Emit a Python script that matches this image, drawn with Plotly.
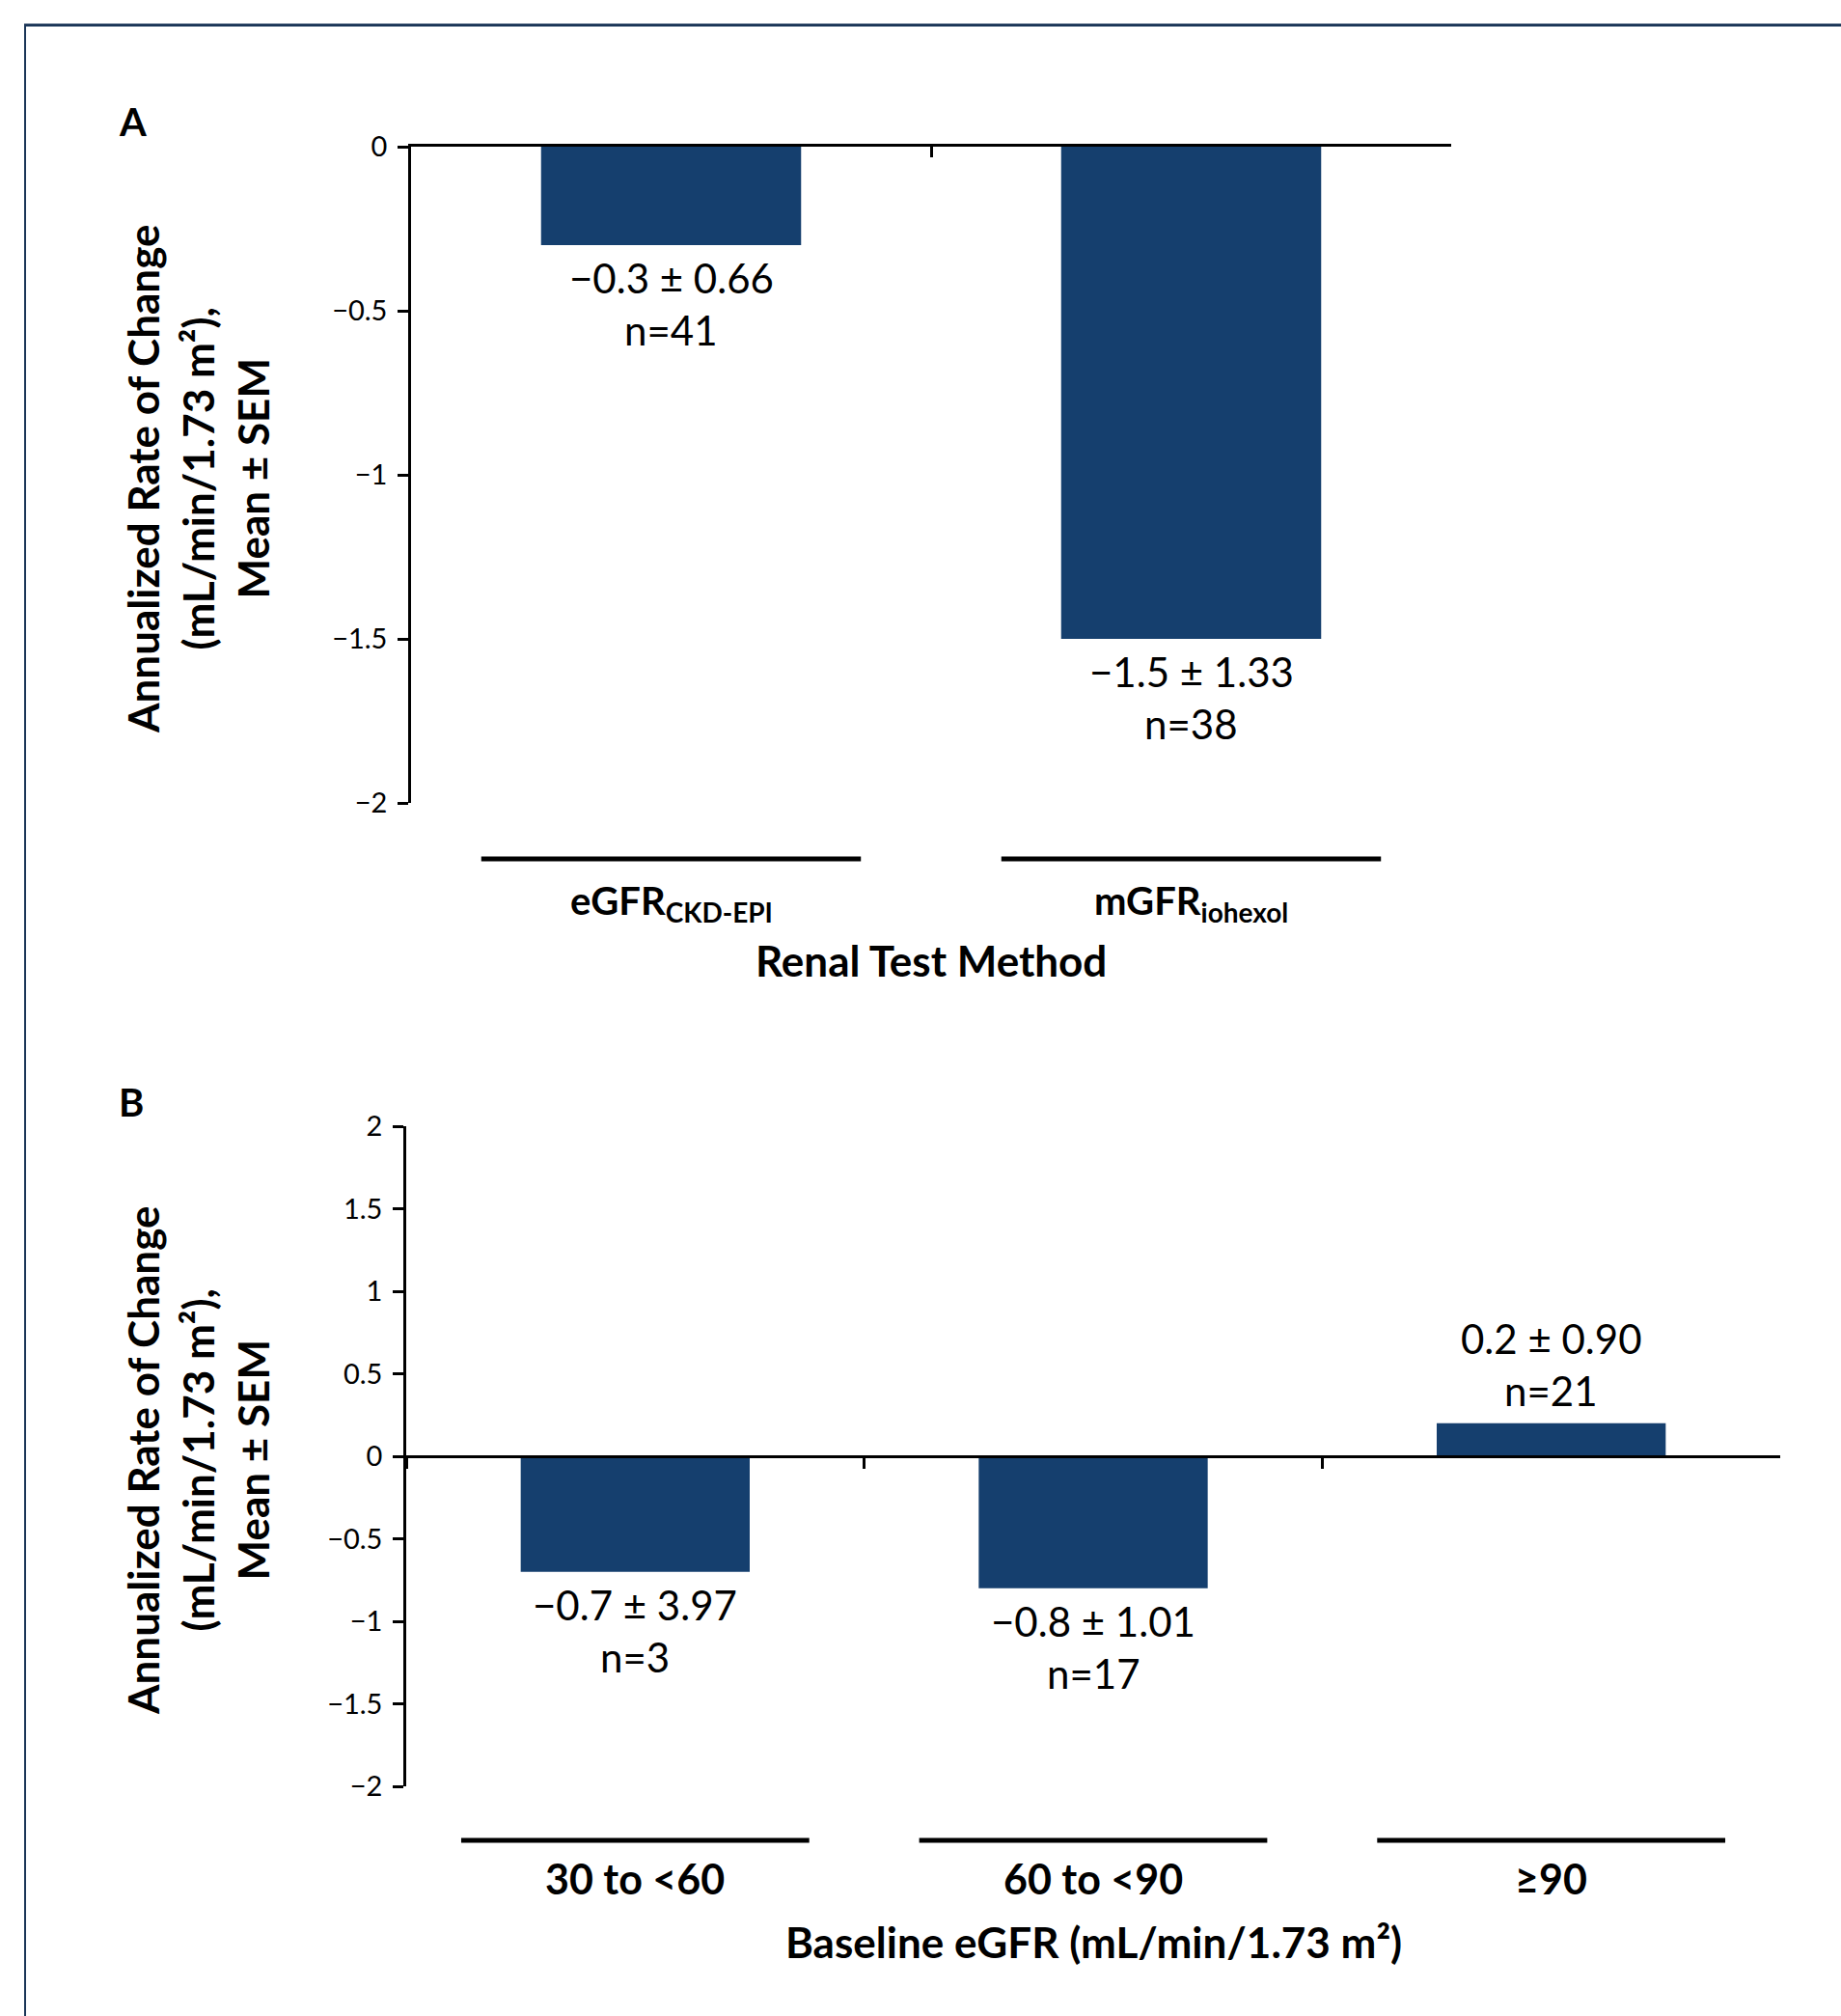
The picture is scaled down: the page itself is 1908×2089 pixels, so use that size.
import plotly.graph_objects as go

W, H = 1908, 2089

# ---------------- data ----------------
cats_a = ["eGFR<sub>CKD-EPI</sub>", "mGFR<sub>iohexol</sub>"]
mean_a = [-0.3, -1.5]
sem_a = [0.66, 1.33]
n_a = [41, 38]
yticks_a = [0, -0.5, -1, -1.5, -2]
xtitle_a = "Renal Test Method"

cats_b = ["30 to <60", "60 to <90", "≥90"]
mean_b = [-0.7, -0.8, 0.2]
sem_b = [3.97, 1.01, 0.90]
n_b = [3, 17, 21]
yticks_b = [2, 1.5, 1, 0.5, 0, -0.5, -1, -1.5, -2]
xtitle_b = "Baseline eGFR (mL/min/1.73 m²)"

ytitle = "Annualized Rate of Change<br>(mL/min/1.73 m²),<br>Mean ± SEM"

# ---------------- style ----------------
BAR = "#153F6E"
FONT = "Lato"
AXW = 2.5


def fx(p):
    return p / W


def fy(p):
    return 1 - p / H


def minus(s):
    return s.replace("-", "−")


def tick_text(vals):
    return [minus(f"{v:g}") for v in vals]


fig = go.Figure()

fig.add_trace(go.Bar(x=cats_a, y=mean_a, width=0.5, marker=dict(color=BAR, line=dict(width=0)),
                     xaxis="x", yaxis="y", showlegend=False, hoverinfo="skip"))
fig.add_trace(go.Bar(x=cats_b, y=mean_b, width=0.5, marker=dict(color=BAR, line=dict(width=0)),
                     xaxis="x2", yaxis="y2", showlegend=False, hoverinfo="skip"))

# panel geometry (pixels)
A_left, A_right, A_top, A_bot = 426, 1504, 152, 832
B_left, B_right, B_top, B_bot, B_zero = 421, 1845, 1167, 1851, 1509

tickfont = dict(family=FONT, size=29, color="black")

common_x = dict(type="category", showline=True, linecolor="black", linewidth=AXW,
                tickson="boundaries", ticklen=11, tickwidth=AXW, tickcolor="black",
                showticklabels=False, showgrid=False, zeroline=False, fixedrange=True,
                automargin=False)
common_y = dict(tickfont=tickfont, showline=True, linecolor="black", linewidth=AXW,
                ticks="outside", ticklen=11, tickwidth=AXW, tickcolor="black",
                ticklabelstandoff=5, showgrid=False, zeroline=False, fixedrange=True,
                automargin=False)

layout = dict(
    width=W, height=H, autosize=False,
    margin=dict(l=0, r=0, t=0, b=0, pad=0, autoexpand=False),
    paper_bgcolor="white", plot_bgcolor="white",
    bargap=0.5,
    xaxis=dict(domain=[fx(A_left), fx(A_right)], anchor="y", range=[-0.5, 1.5],
               side="top", ticks="inside", **common_x),
    yaxis=dict(domain=[fy(A_bot), fy(A_top)], anchor="x", range=[-2, 0],
               tickvals=yticks_a, ticktext=tick_text(yticks_a), **common_y),
    xaxis2=dict(domain=[fx(B_left), fx(B_right)], anchor="free", position=fy(B_zero),
                range=[-0.5, 2.5], ticks="outside", **common_x),
    yaxis2=dict(domain=[fy(B_bot), fy(B_top)], anchor="x2", range=[-2, 2],
                tickvals=yticks_b, ticktext=tick_text(yticks_b), **common_y),
)
fig.update_layout(**layout)

ann = []
shapes = []

VAL_FONT = dict(family=FONT, size=42, color="black")


# value labels
def value_labels(cats, means, sems, ns, xref, yref):
    for c, m, s, n in zip(cats, means, sems, ns):
        l1 = minus(f"{m:.1f}") + " ± " + f"{s:.2f}"
        l2 = f"n={n}"
        if m < 0:
            sh1, sh2 = -34, -88
        else:
            sh1, sh2 = 88, 34
        ann.append(dict(x=c, y=m, xref=xref, yref=yref, text=l1, showarrow=False,
                        yshift=sh1, yanchor="middle", xanchor="center", font=VAL_FONT))
        ann.append(dict(x=c, y=m, xref=xref, yref=yref, text=l2, showarrow=False,
                        yshift=sh2, yanchor="middle", xanchor="center", font=VAL_FONT))


value_labels(cats_a, mean_a, sem_a, n_a, "x", "y")
value_labels(cats_b, mean_b, sem_b, n_b, "x2", "y2")


# category bars + labels below the axes
def cat_labels(cats, xref, line_y, label_y, half, size):
    for i, c in enumerate(cats):
        shapes.append(dict(type="line", xref=xref, yref="paper",
                           x0=i - half, x1=i + half, y0=fy(line_y), y1=fy(line_y),
                           line=dict(color="black", width=5)))
        ann.append(dict(x=c, xref=xref, y=fy(label_y), yref="paper", text=f"<b>{c}</b>",
                        showarrow=False, xanchor="center", yanchor="middle",
                        font=dict(family=FONT, size=size, color="black")))


cat_labels(cats_a, "x", 890, 935, 0.365, 40)
cat_labels(cats_b, "x2", 1907, 1946, 0.38, 43)

# axis titles
ann.append(dict(x=fx((A_left + A_right) / 2), y=fy(995), xref="paper", yref="paper",
                text=f"<b>{xtitle_a}</b>", showarrow=False, xanchor="center", yanchor="middle",
                font=dict(family=FONT, size=44, color="black")))
ann.append(dict(x=fx((B_left + B_right) / 2), y=fy(2012), xref="paper", yref="paper",
                text=f"<b>{xtitle_b}</b>", showarrow=False, xanchor="center", yanchor="middle",
                font=dict(family=FONT, size=44, color="black")))

for cy in (497, 1514):
    ann.append(dict(x=fx(205), y=fy(cy), xref="paper", yref="paper", text=f"<b>{ytitle}</b>",
                    textangle=-90, showarrow=False, xanchor="center", yanchor="middle",
                    font=dict(family=FONT, size=44, color="black")))

# panel letters
for letter, (lx, ly) in (("A", (137, 126)), ("B", (136, 1142))):
    ann.append(dict(x=fx(lx), y=fy(ly), xref="paper", yref="paper", text=f"<b>{letter}</b>",
                    showarrow=False, xanchor="center", yanchor="middle",
                    font=dict(family=FONT, size=40, color="black")))

# frame lines
shapes.append(dict(type="line", xref="paper", yref="paper", x0=fx(25), x1=1, y0=fy(26), y1=fy(26),
                   line=dict(color="#1B3658", width=3)))
shapes.append(dict(type="line", xref="paper", yref="paper", x0=fx(26), x1=fx(26), y0=fy(25), y1=0,
                   line=dict(color="#1B3658", width=2)))

fig.update_layout(annotations=ann, shapes=shapes)

fig.write_html("out.html", config={"displayModeBar": False})
